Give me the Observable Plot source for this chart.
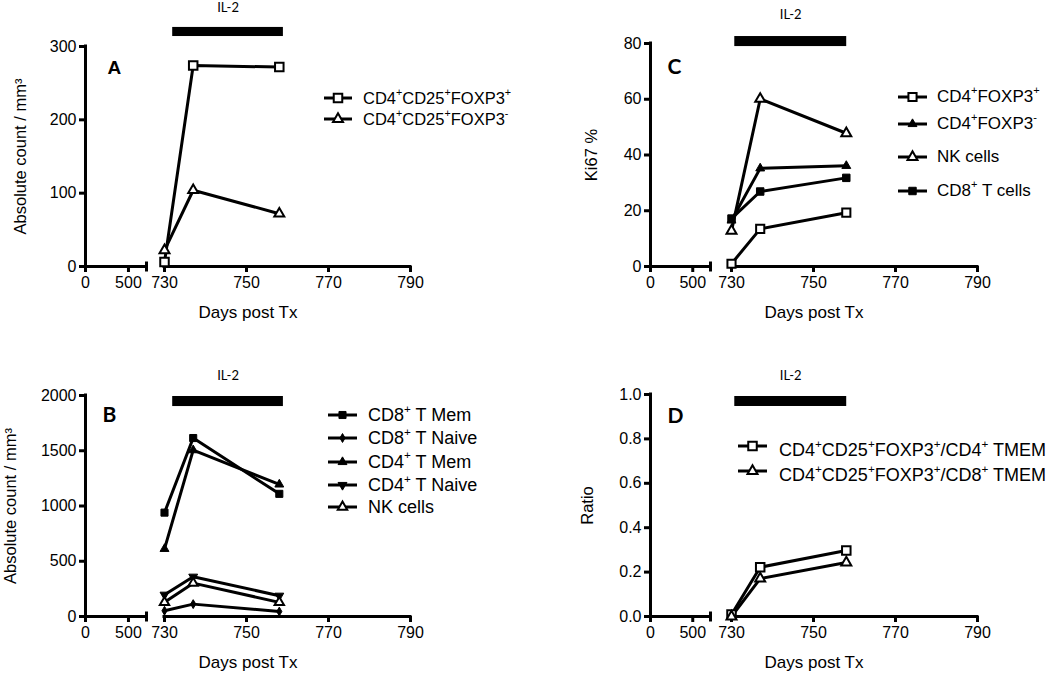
<!DOCTYPE html>
<html>
<head>
<meta charset="utf-8">
<script src="https://cdn.jsdelivr.net/npm/d3@7"></script>
<script src="https://cdn.jsdelivr.net/npm/@observablehq/plot@0.6"></script>
<style>
  body { margin: 0; background: #fff; }
  #root { position: relative; width: 1050px; height: 674px; overflow: hidden; background: #fff;
          font-family: "Liberation Sans", Arial, sans-serif; color: #000; }
  .panel { position: absolute; width: 525px; height: 337px; }
  .row { position: absolute; display: flex; align-items: center; white-space: nowrap; height: 20px; line-height: 20px; }
  .row svg { flex: none; overflow: visible; }
  .row span { position: relative; }
  .row sup { font-size: 65%; line-height: 0; position: relative; top: -0.1em; vertical-align: super; }
</style>
</head>
<body>
<div id="root"></div>
<script>
// ---------------- data ----------------
const days = [730, 737, 758];
const tickDays = [0, 500, 730, 750, 770, 790];
const breakDay = 710;

// Panel A – absolute counts
const seriesA = ["CD4+CD25+FOXP3+", "CD4+CD25+FOXP3-"];
const tregCountA = [6, 274, 272];
const foxp3NegCountA = [22, 104, 72];
const ticksA = [0, 100, 200, 300];

// Panel B – absolute counts
const seriesB = ["CD8+ T Mem", "CD8+ T Naive", "CD4+ T Mem", "CD4+ T Naive", "NK cells"];
const cd8MemB = [940, 1615, 1110];
const cd8NaiveB = [52, 112, 45];
const cd4MemB = [612, 1505, 1195];
const cd4NaiveB = [197, 360, 188];
const nkB = [128, 302, 128];
const ticksB = [0, 500, 1000, 1500, 2000];

// Panel C – Ki67 %
const seriesC = ["CD4+FOXP3+", "CD4+FOXP3-", "NK cells", "CD8+ T cells"];
const foxp3PosC = [1, 13.5, 19.3];
const foxp3NegC = [16.5, 35.2, 36.1];
const nkC = [12.8, 60.1, 47.8];
const cd8C = [17.2, 26.9, 31.8];
const ticksC = [0, 20, 40, 60, 80];

// Panel D – ratios
const seriesD = ["CD4+CD25+FOXP3+/CD4+ TMEM", "CD4+CD25+FOXP3+/CD8+ TMEM"];
const ratioCd4D = [0.009, 0.222, 0.297];
const ratioCd8D = [0.0, 0.171, 0.243];
const ticksD = [0, 0.2, 0.4, 0.6, 0.8, 1.0];

// ---------------- symbols ----------------
const sqrt3 = Math.sqrt(3);
const triangleDown = {
  draw(context, size) {
    const y = -Math.sqrt(size / (sqrt3 * 3));
    context.moveTo(0, -y * 2);
    context.lineTo(-sqrt3 * y, y);
    context.lineTo(sqrt3 * y, y);
    context.closePath();
  }
};
const breakCap = {
  draw(context) { context.moveTo(0, -5); context.lineTo(0, 5); }
};
const S = d3.symbolSquare, T = d3.symbolTriangle, D = d3.symbolDiamond;

// ---------------- panels ----------------
const panels = [
  {
    letter: "A", letterFont: "Liberation Sans, Arial, sans-serif", letterSize: 19, letterDx: 22, letterDy: 21,
    left: 0, top: 0, margin: [46, 115, 71, 85], xRange: [85, 146, 164, 410],
    yDomain: [0, 300], yTicks: ticksA, fmt: d => String(d),
    yTitle: "Absolute count / mm³", yTitleDx: -65,
    il2: {start: 732, end: 759, y1: 313.6, y2: 326, textY: 353},
    series: seriesA, values: [tregCountA, foxp3NegCountA],
    styles: [{symbol: S, r: 4.8, open: true}, {symbol: T, r: 3.7, open: true}],
    legend: {x0: 324, x1: 352, tx: 363, ys: [98, 119], fs: 16.5, tdy: 0}
  },
  {
    letter: "B", letterFont: "Lato, sans-serif", letterSize: 21, letterDx: 17, letterDy: 20,
    left: 0, top: 337, margin: [58, 115, 58, 85], xRange: [85, 146, 164, 410],
    yDomain: [0, 2000], yTicks: ticksB, fmt: d => String(d),
    yTitle: "Absolute count / mm³", yTitleDx: -75,
    il2: {start: 732, end: 759, y1: 1900, y2: 1991, textY: 2181},
    series: seriesB, values: [cd8MemB, cd8NaiveB, cd4MemB, cd4NaiveB, nkB],
    styles: [{symbol: S, r: 4, open: false}, {symbol: D, r: 2.7, open: false},
             {symbol: T, r: 3.3, open: false}, {symbol: triangleDown, r: 3.3, open: false},
             {symbol: T, r: 3.5, open: true}],
    legend: {x0: 328, x1: 357, tx: 368, ys: [415, 438, 461.5, 485, 507], fs: 18, tdy: 0}
  },
  {
    letter: "C", letterFont: "Lato, sans-serif", letterSize: 21, letterDx: 17, letterDy: 24,
    left: 525, top: 0, margin: [43, 73, 71, 125], xRange: [125, 185, 206, 452],
    yDomain: [0, 80], yTicks: ticksC, fmt: d => String(d),
    yTitle: "Ki67 %", yTitleDx: -59,
    il2: {start: 730.8, end: 758.1, y1: 78.9, y2: 82.5, textY: 90.4},
    series: seriesC, values: [foxp3PosC, foxp3NegC, nkC, cd8C],
    styles: [{symbol: S, r: 4.6, open: true}, {symbol: T, r: 3.3, open: false},
             {symbol: T, r: 3.7, open: true}, {symbol: S, r: 4.2, open: false}],
    legend: {x0: 898, x1: 927, tx: 937, ys: [97, 124, 156.5, 191], fs: 17, tdy: 0}
  },
  {
    letter: "D", letterFont: "Lato, sans-serif", letterSize: 21, letterDx: 17, letterDy: 22,
    left: 525, top: 337, margin: [57, 73, 58, 125], xRange: [125, 185, 206, 452],
    yDomain: [0, 1], yTicks: ticksD, fmt: d3.format(".1f"),
    yTitle: "Ratio", yTitleDx: -63,
    il2: {start: 730.8, end: 758.1, y1: 0.946, y2: 0.991, textY: 1.086},
    series: seriesD, values: [ratioCd4D, ratioCd8D],
    styles: [{symbol: S, r: 4.8, open: true}, {symbol: T, r: 3.7, open: true}],
    legend: {x0: 738, x1: 767, tx: 779, ys: [446, 471], fs: 18, tdy: 4}
  }
];

const root = document.getElementById("root");

function fmtLabel(label) {
  return label.replace(/([0-9A-Z])([+\-])/g, (m, a, b) => `${a}<sup>${b}</sup>`);
}

for (const cfg of panels) {
  const rows = [];
  cfg.series.forEach((s, i) => cfg.values[i].forEach((v, j) => rows.push({series: s, day: days[j], value: v})));
  const [mt, mr, mb, ml] = cfg.margin;
  const marks = [
    Plot.rect([cfg.il2], {x1: "start", x2: "end", y1: "y1", y2: "y2", fill: "black"}),
    Plot.text([cfg.il2], {x: d => (d.start + d.end) / 2, y: "textY", text: () => "IL-2",
      fontSize: 13, fontFamily: "Lato, sans-serif", fill: "black"}),
    Plot.ruleX([0], {y1: cfg.yDomain[0], y2: cfg.yDomain[1], strokeWidth: 3, strokeLinecap: "square"}),
    Plot.ruleY([0], {x1: 0, x2: breakDay, strokeWidth: 3, strokeLinecap: "square"}),
    Plot.ruleY([0], {x1: 730, x2: 790, strokeWidth: 3, strokeLinecap: "square"}),
    Plot.dot([0], {x: breakDay, y: 0, symbol: breakCap, stroke: "black", strokeWidth: 3}),
    Plot.axisX({ticks: tickDays, tickSize: 6, tickPadding: 4, strokeWidth: 3, fontSize: 16,
      tickFormat: d => String(d), label: null}),
    Plot.axisY({ticks: cfg.yTicks, tickSize: 6, tickPadding: 3, strokeWidth: 3, fontSize: 16,
      tickFormat: cfg.fmt, label: null}),
    Plot.line(rows, {x: "day", y: "value", z: "series", stroke: "black", strokeWidth: 3}),
    ...cfg.series.map((s, i) => Plot.dot(rows.filter(d => d.series === s), {
      x: "day", y: "value", symbol: cfg.styles[i].symbol, r: cfg.styles[i].r,
      fill: cfg.styles[i].open ? "white" : "black", stroke: "black",
      strokeWidth: cfg.styles[i].open ? 2 : 1
    })),
    Plot.text([cfg.letter], {text: d => d, frameAnchor: "top-left", dx: cfg.letterDx, dy: cfg.letterDy,
      textAnchor: "start", lineAnchor: "middle", fontSize: cfg.letterSize, fontWeight: "bold",
      fontFamily: cfg.letterFont}),
    Plot.text(["Days post Tx"], {text: d => d, frameAnchor: "bottom", dy: 46,
      textAnchor: "middle", lineAnchor: "middle", fontSize: 17}),
    Plot.text([cfg.yTitle], {text: d => d, frameAnchor: "left", dx: cfg.yTitleDx, rotate: -90,
      textAnchor: "middle", lineAnchor: "middle", fontSize: 16.5})
  ];
  const svg = Plot.plot({
    width: 525, height: 337,
    marginTop: mt, marginRight: mr, marginBottom: mb, marginLeft: ml,
    x: {type: "linear", domain: [0, breakDay, 730, 790], range: cfg.xRange},
    y: {type: "linear", domain: cfg.yDomain},
    style: {fontFamily: "Liberation Sans, Arial, sans-serif", fontSize: "16px",
            background: "transparent", overflow: "visible", color: "black"},
    marks
  });
  const wrap = document.createElement("div");
  wrap.className = "panel";
  wrap.style.left = cfg.left + "px";
  wrap.style.top = cfg.top + "px";
  wrap.appendChild(svg);
  root.appendChild(wrap);

  // legend
  const L = cfg.legend;
  cfg.series.forEach((label, i) => {
    const st = cfg.styles[i];
    const w = L.x1 - L.x0;
    const path = d3.symbol(st.symbol, Math.PI * st.r * st.r)();
    const row = document.createElement("div");
    row.className = "row";
    row.style.left = L.x0 + "px";
    row.style.top = (L.ys[i] - 10) + "px";
    row.style.fontSize = L.fs + "px";
    row.innerHTML =
      `<svg width="${w}" height="20" style="margin-right:${L.tx - L.x1}px">` +
      `<line x1="0" x2="${w}" y1="10" y2="10" stroke="black" stroke-width="3"/>` +
      `<path transform="translate(${w / 2},10)" d="${path}" fill="${st.open ? "white" : "black"}" stroke="black" stroke-width="${st.open ? 2 : 1}"/>` +
      `</svg><span style="top:${L.tdy}px">${fmtLabel(label)}</span>`;
    root.appendChild(row);
  });
}
</script>
</body>
</html>
